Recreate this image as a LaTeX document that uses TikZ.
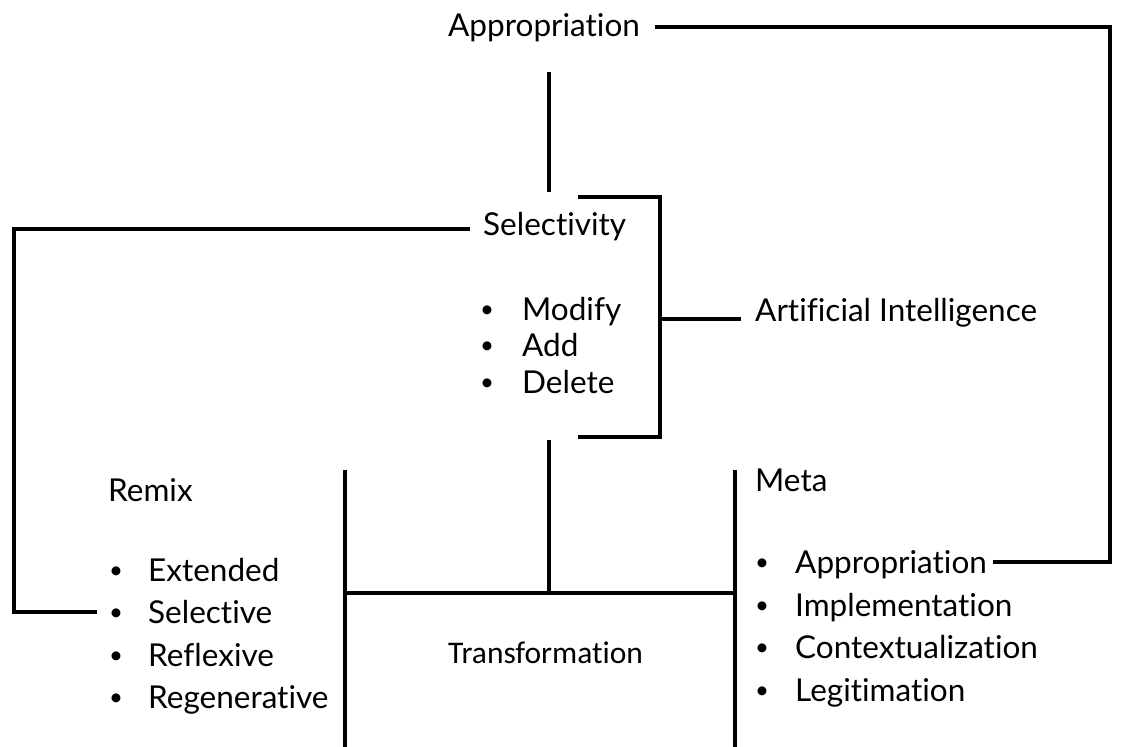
\documentclass[tikz,border=0pt]{standalone}
\usepackage{fontspec}
\setmainfont{Lato}[Ligatures=NoCommon]
\newfontfamily\trfont{Carlito}[Ligatures=NoCommon]
\begin{document}
\begin{tikzpicture}[x=1pt,y=-1pt,
  lbl/.style={inner sep=0pt,anchor=base west,font=\fontsize{31.5}{36}\selectfont},
  bul/.style={inner sep=0pt,anchor=base,yshift=2.5pt,font=\fontsize{24}{28}\selectfont},
  conn/.style={line width=3.4pt}]
\useasboundingbox (0,0) rectangle (1133,747);
% texts
\node[lbl] (app) at (448,36) {Appropriation};
\node[lbl] (sel) at (483,235) {Selectivity};
\node[bul] (b1) at (487,320) {•};
\node[lbl] (s1) at (522,320) {Modify};
\node[bul] (b2) at (487,356) {•};
\node[lbl] (s2) at (522,356) {Add};
\node[bul] (b3) at (487,393) {•};
\node[lbl] (s3) at (522,393) {Delete};
\node[lbl] (ai) at (755,321) {Artificial Intelligence};
\node[lbl] (remix) at (108,501) {Remix};
\node[bul] (rb1) at (116,581) {•};
\node[lbl] (r1) at (148,581) {Extended};
\node[bul] (rb2) at (116,623) {•};
\node[lbl] (r2) at (148,623) {Selective};
\node[bul] (rb3) at (116,666) {•};
\node[lbl] (r3) at (148,666) {Reflexive};
\node[bul] (rb4) at (116,708) {•};
\node[lbl] (r4) at (148,708) {Regenerative};
\node[inner sep=0pt,anchor=base west,font=\trfont\fontsize{31.5}{36}\selectfont] (tr) at (448,663) {Transformation};
\node[lbl] (meta) at (755,491) {Meta};
\node[bul] (mb1) at (762,573) {•};
\node[lbl] (m1) at (795,573) {Appropriation};
\node[bul] (mb2) at (762,616) {•};
\node[lbl] (m2) at (795,616) {Implementation};
\node[bul] (mb3) at (762,658) {•};
\node[lbl] (m3) at (795,658) {Contextualization};
\node[bul] (mb4) at (762,701) {•};
\node[lbl] (m4) at (795,701) {Legitimation};
% coordinates
\coordinate (atop) at (549,72);
\coordinate (abot) at (549,192);
\coordinate (rtop) at (1110,27);
\coordinate (rbot) at (1110,562);
\coordinate (ltop) at (14,229);
\coordinate (lbot) at (14,612);
\coordinate (brt) at (578,197);
\coordinate (brb) at (578,437);
\coordinate (brx) at (660,319);
\coordinate (ttop) at (549,440);
\coordinate (tj) at (549,593);
\coordinate (lv) at (345,470);
\coordinate (lvb) at (345,747);
\coordinate (rv) at (735,470);
\coordinate (rvb) at (735,747);
% connectors
\draw[conn] ([xshift=15pt]app.east |- rtop) -- (rtop) -- (rbot) -- ([xshift=6pt]m1.east |- rbot);
\draw[conn] (atop) -- (abot);
\draw[conn] ([xshift=-13pt]sel.west |- ltop) -- (ltop) -- (lbot) -- ([xshift=-12pt]rb2.west |- lbot);
\draw[conn] (brt) -| (brx) |- (brb);
\draw[conn] (brx) -- ([xshift=-14pt]ai.west |- brx);
\draw[conn] (ttop) -- (tj);
\draw[conn] (lv) -- (lvb);
\draw[conn] (rv) -- (rvb);
\draw[conn] (lv |- tj) -- (rv |- tj);
\end{tikzpicture}
\end{document}
